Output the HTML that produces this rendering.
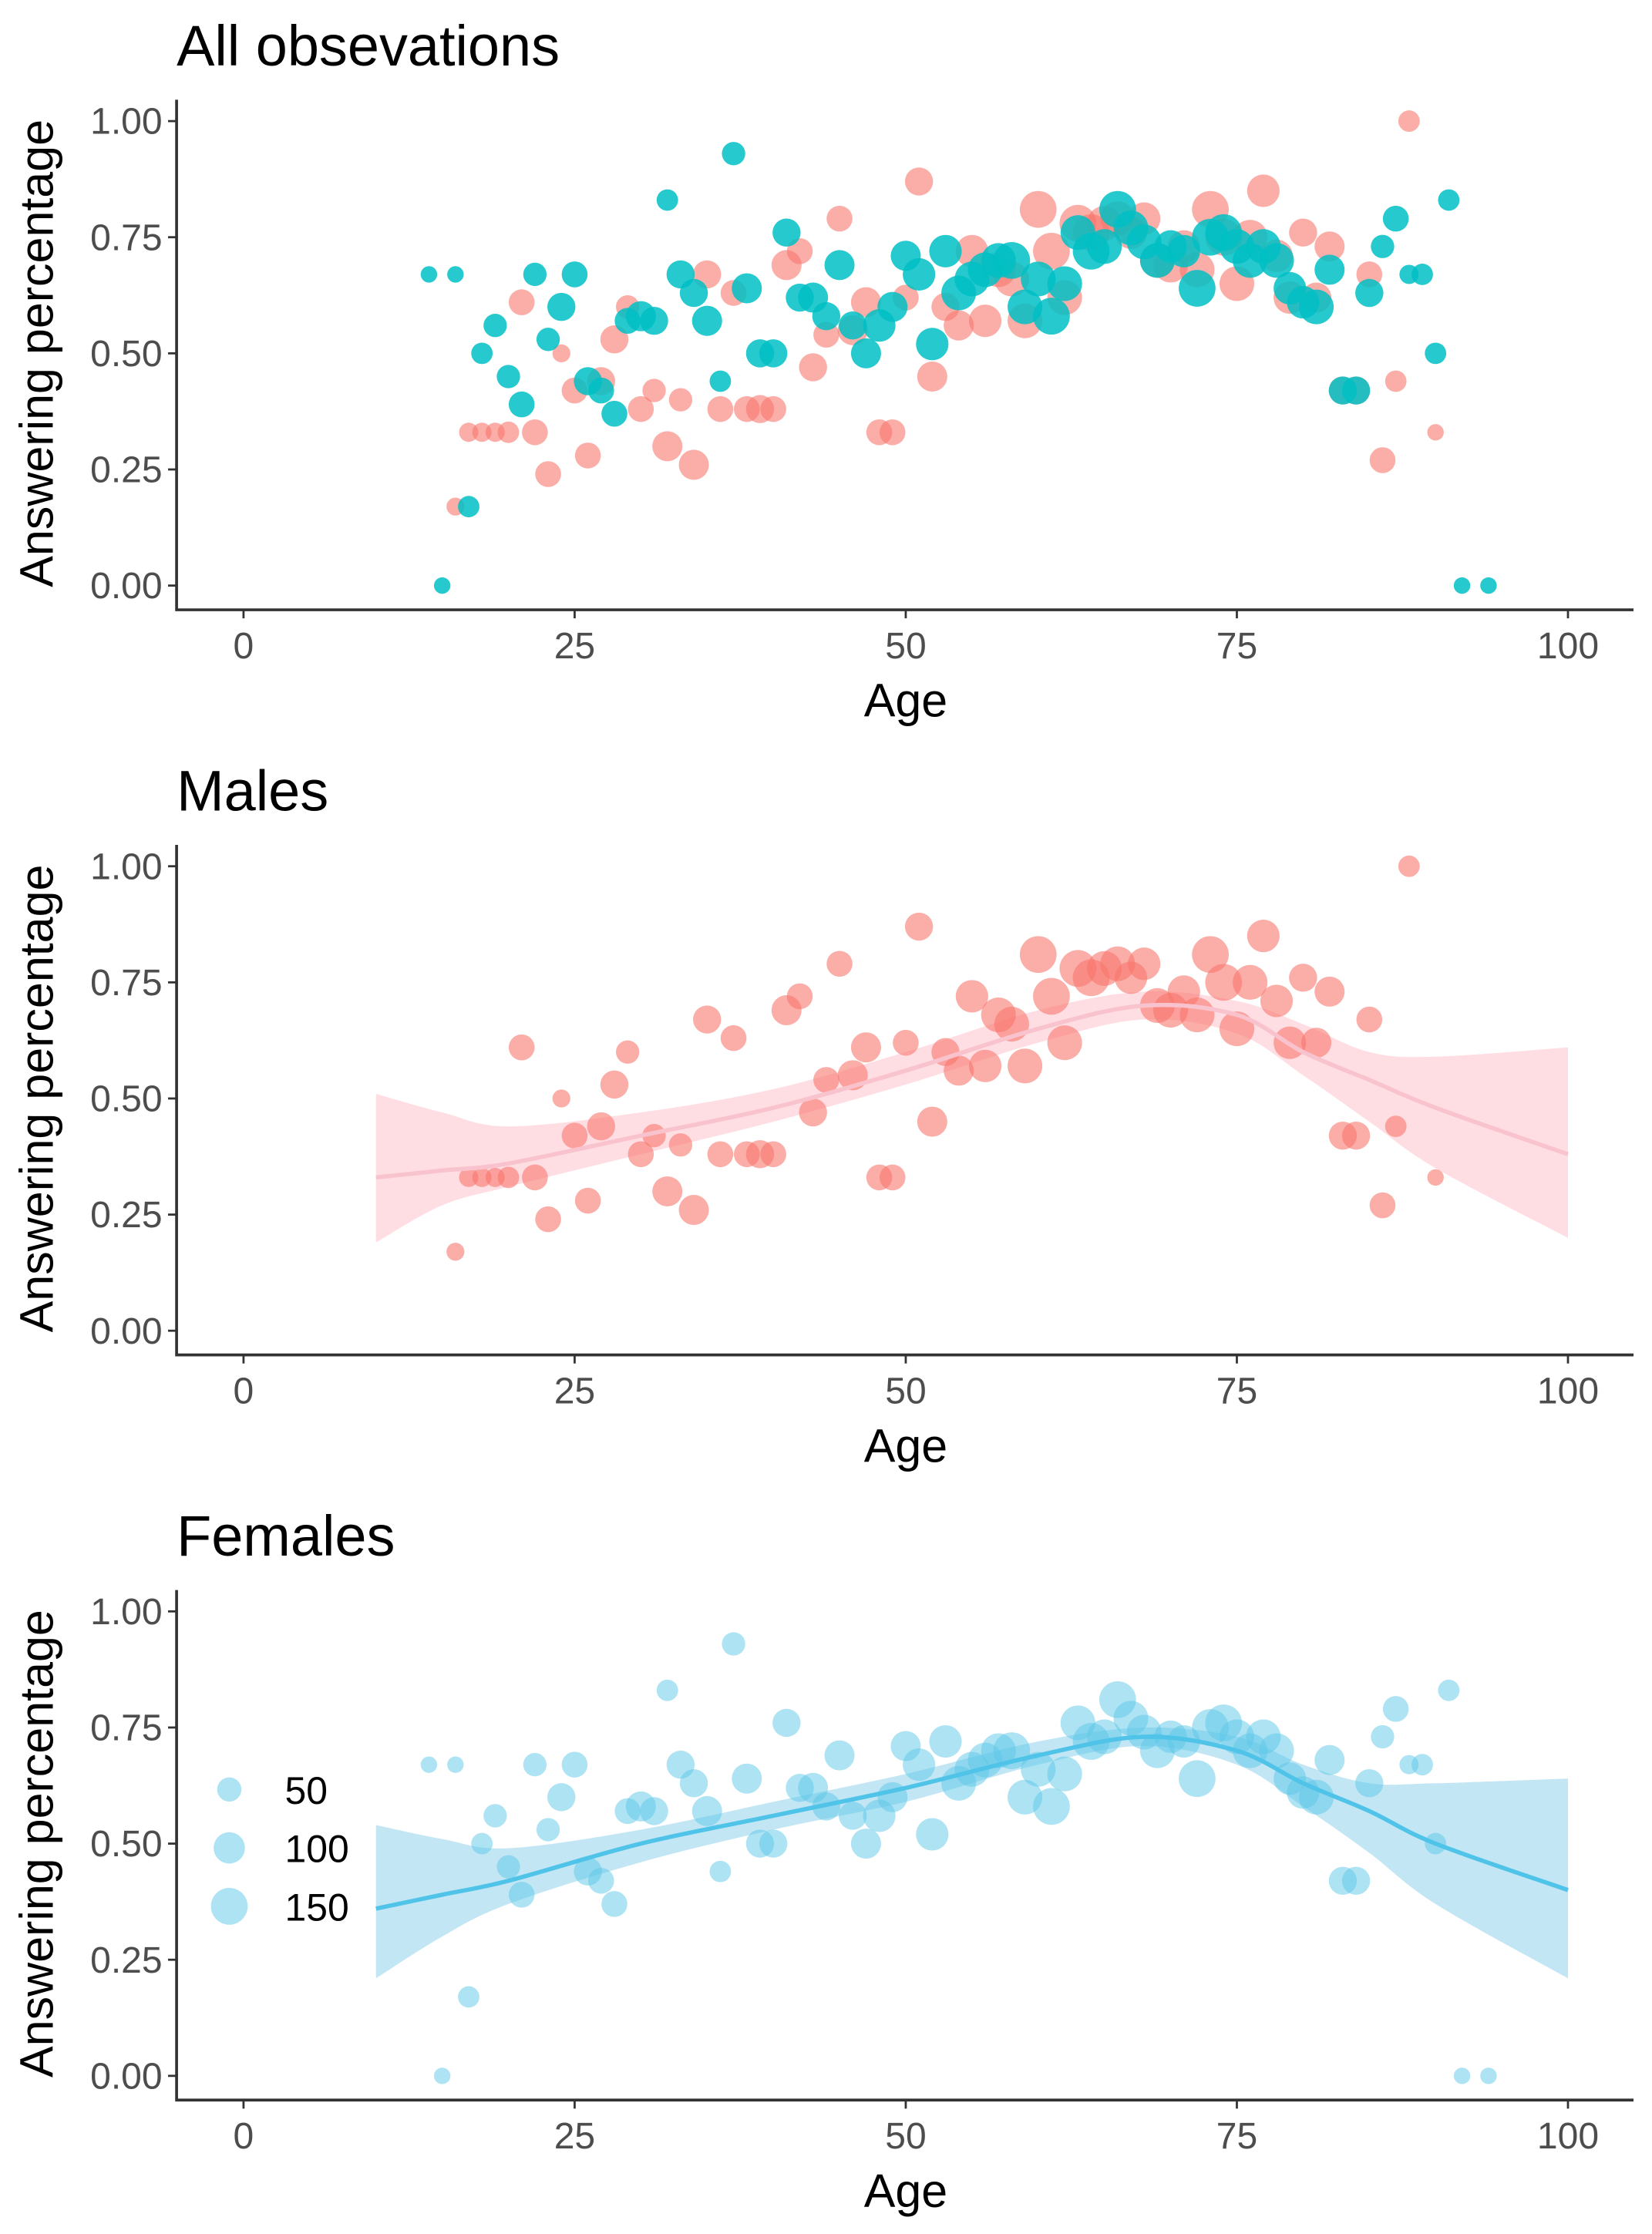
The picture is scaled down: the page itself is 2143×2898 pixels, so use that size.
<!DOCTYPE html>
<html><head><meta charset="utf-8"><style>
html,body{margin:0;padding:0;background:#fff}
svg{display:block}
text{font-family:"Liberation Sans",sans-serif}
</style></head><body>
<svg id="c" width="2143" height="2898" viewBox="0 0 1160 1568" preserveAspectRatio="none" xmlns="http://www.w3.org/2000/svg"></svg>
<script>
const ticksX=[0,25,50,75,100];
const ticksY=[0,0.25,0.5,0.75,1];
const tickLabelsY=["0.00","0.25","0.50","0.75","1.00"];
const panelTitles=["All obsevations","Males","Females"];
const maleAge=[16,17,18,19,20,21,22,23,24,25,26,27,28,29,30,31,32,33,34,35,36,37,38,39,40,41,42,43,44,45,46,47,48,49,50,51,52,53,54,55,56,57,58,59,60,61,62,63,64,65,66,67,68,69,70,71,72,73,74,75,76,77,78,79,80,81,82,83,84,85,86,87,88,90];
const maleVal=[0.17,0.33,0.33,0.33,0.33,0.61,0.33,0.24,0.5,0.42,0.28,0.44,0.53,0.6,0.38,0.42,0.3,0.4,0.26,0.67,0.38,0.63,0.38,0.38,0.38,0.69,0.72,0.47,0.54,0.79,0.55,0.61,0.33,0.33,0.62,0.87,0.45,0.6,0.56,0.72,0.57,0.68,0.66,0.57,0.81,0.72,0.62,0.78,0.76,0.78,0.79,0.76,0.79,0.7,0.69,0.73,0.68,0.81,0.75,0.65,0.75,0.85,0.71,0.62,0.76,0.62,0.73,0.42,0.42,0.67,0.27,0.44,1.0,0.33];
const maleN=[20,25,25,25,35,60,60,60,20,60,60,75,75,45,60,45,90,45,90,75,60,60,60,75,60,90,60,75,60,60,90,90,60,60,60,75,90,75,90,110,110,130,130,130,150,150,130,150,150,130,130,110,110,130,130,110,130,150,150,130,130,110,110,110,75,90,90,75,75,60,60,35,35,15];
const femAge=[14,15,16,17,18,19,20,21,22,23,24,25,26,27,28,29,30,31,32,33,34,35,36,37,38,39,40,41,42,43,44,45,46,47,48,49,50,51,52,53,54,55,56,57,58,59,60,61,62,63,64,65,66,67,68,69,70,71,72,73,74,75,76,77,78,79,80,81,82,83,84,85,86,87,88,89,90,91,92,94];
const femVal=[0.67,0.0,0.67,0.17,0.5,0.56,0.45,0.39,0.67,0.53,0.6,0.67,0.44,0.42,0.37,0.57,0.58,0.57,0.83,0.67,0.63,0.57,0.44,0.93,0.64,0.5,0.5,0.76,0.62,0.62,0.58,0.69,0.56,0.5,0.56,0.6,0.71,0.67,0.52,0.72,0.63,0.66,0.68,0.7,0.7,0.6,0.66,0.58,0.65,0.76,0.72,0.73,0.81,0.77,0.74,0.7,0.73,0.72,0.64,0.75,0.76,0.73,0.7,0.73,0.7,0.64,0.61,0.6,0.68,0.42,0.42,0.63,0.73,0.79,0.67,0.67,0.5,0.83,0.0,0.0];
const femN=[15,15,15,35,35,45,45,60,45,45,75,60,75,60,60,60,90,75,35,75,75,90,35,45,90,75,75,75,75,90,75,90,75,90,110,90,90,110,110,110,130,130,130,130,150,130,130,150,130,130,150,130,150,130,130,130,110,110,150,150,150,130,130,130,130,110,110,130,90,75,75,75,45,60,25,35,35,35,15,15];
const smoothAge=[10,15,20,30,40,50,60,68,75,80,85,90,100];
const maleFit=[0.33,0.345,0.36,0.42,0.48,0.56,0.65,0.70,0.68,0.6,0.54,0.48,0.38];
const maleLo=[0.19,0.27,0.31,0.38,0.45,0.53,0.62,0.67,0.64,0.55,0.45,0.35,0.2];
const maleHi=[0.51,0.47,0.44,0.47,0.52,0.6,0.69,0.73,0.71,0.66,0.6,0.59,0.61];
const femFit=[0.36,0.39,0.42,0.5,0.56,0.62,0.69,0.73,0.7,0.63,0.57,0.5,0.4];
const femLo=[0.21,0.3,0.37,0.46,0.53,0.59,0.67,0.71,0.67,0.58,0.48,0.37,0.21];
const femHi=[0.54,0.51,0.49,0.53,0.59,0.65,0.72,0.75,0.73,0.67,0.63,0.63,0.64];
const legendN=[50,100,150];

const NS="http://www.w3.org/2000/svg";
const svg=document.getElementById('c');
function mk(tag,attrs,parent){const e=document.createElementNS(NS,tag);for(const k in attrs)e.setAttribute(k,attrs[k]);(parent||svg).appendChild(e);return e;}
const X=a=>171+a*9.3;
const R=n=>2.5+Math.sqrt(n)*0.85;
function curve(p,start){
  let d=(start?'M':'L')+p[0][0]+','+p[0][1];
  for(let i=0;i<p.length-1;i++){
    const p0=p[Math.max(0,i-1)],p1=p[i],p2=p[i+1],p3=p[Math.min(p.length-1,i+2)];
    const c1=[p1[0]+(p2[0]-p0[0])/6,p1[1]+(p2[1]-p0[1])/6];
    const c2=[p2[0]-(p3[0]-p1[0])/6,p2[1]-(p3[1]-p1[1])/6];
    d+=` C${c1[0]},${c1[1]} ${c2[0]},${c2[1]} ${p2[0]},${p2[1]}`;
  }
  return d;
}

function panel(i){
  const off=i*523;
  const Y=v=>off+411-v*326;
  const g=mk('g',{});
  
  
  const t=mk('text',{x:124,y:off+46,'font-size':40,fill:'#000'},g);t.textContent=panelTitles[i];
  
  
  const yl=mk('text',{x:0,y:0,'font-size':33,fill:'#000','text-anchor':'middle',transform:`translate(37,${off+248}) rotate(-90)`},g);yl.textContent='Answering percentage';
  
  
  const xl=mk('text',{x:636,y:off+503,'font-size':33,fill:'#000','text-anchor':'middle'},g);xl.textContent='Age';
  
  
  const ax=mk('path',{d:`M124,${off+70} V${off+428} H1147`,stroke:'#333',fill:'none','stroke-width':2},g);
  
  
  ticksY.forEach((v,k)=>{
    mk('line',{x1:118,x2:124,y1:Y(v),y2:Y(v),stroke:'#333','stroke-width':1.5},g);
    const tl=mk('text',{x:114,y:Y(v)+9,'font-size':26,fill:'#4d4d4d','text-anchor':'end'},g);tl.textContent=tickLabelsY[k];
    
    
  });
  ticksX.forEach(v=>{
    mk('line',{x1:X(v),x2:X(v),y1:off+428,y2:off+434,stroke:'#333','stroke-width':1.5},g);
    const tl=mk('text',{x:X(v),y:off+462,'font-size':26,fill:'#4d4d4d','text-anchor':'middle'},g);tl.textContent=v;
    
    
  });
  function band(lo,hi,fill,op){
    const up=smoothAge.map((a,k)=>[X(a),Y(hi[k])]);
    const dn=smoothAge.map((a,k)=>[X(a),Y(lo[k])]).reverse();
    const d=curve(up,true)+' '+curve(dn,false)+' Z';
    const b=mk('path',{d,fill,'fill-opacity':op,stroke:'none'},g);
    
    
  }
  function line(fit,col){
    const l=mk('path',{d:curve(smoothAge.map((a,k)=>[X(a),Y(fit[k])]),true),fill:'none',stroke:col,'stroke-width':3,'stroke-linejoin':'round'},g);
    
    
  }
  function pts(age,val,n,col,op,name){
    age.forEach((a,k)=>{
      const c=mk('circle',{cx:X(a),cy:Y(val[k]),r:R(n[k]),fill:col,'fill-opacity':op},g);
      
      
    });
  }
  if(i===0){
    pts(maleAge,maleVal,maleN,'#F8766D',0.6,'male-point');
    pts(femAge,femVal,femN,'#00BFC4',0.85,'female-point');
  } else if(i===1){
    band(maleLo,maleHi,'#FFB6C1',0.45);
    pts(maleAge,maleVal,maleN,'#F8766D',0.6,'male-point');
    line(maleFit,'#F9C3CD');
  } else {
    band(femLo,femHi,'#87CEEB',0.5);
    pts(femAge,femVal,femN,'#5BC8E8',0.5,'female-point');
    line(femFit,'#4FC3E8');
    legendN.forEach((n,k)=>{
      const c=mk('circle',{cx:161,cy:1256+k*41,r:R(n),fill:'#5BC8E8','fill-opacity':0.5},g);
      
      
      const lt=mk('text',{x:200,y:1266+k*41,'font-size':27,fill:'#000'},g);lt.textContent=n;
      
      
    });
  }
}
[0,1,2].forEach(panel);
</script>
</body></html>
